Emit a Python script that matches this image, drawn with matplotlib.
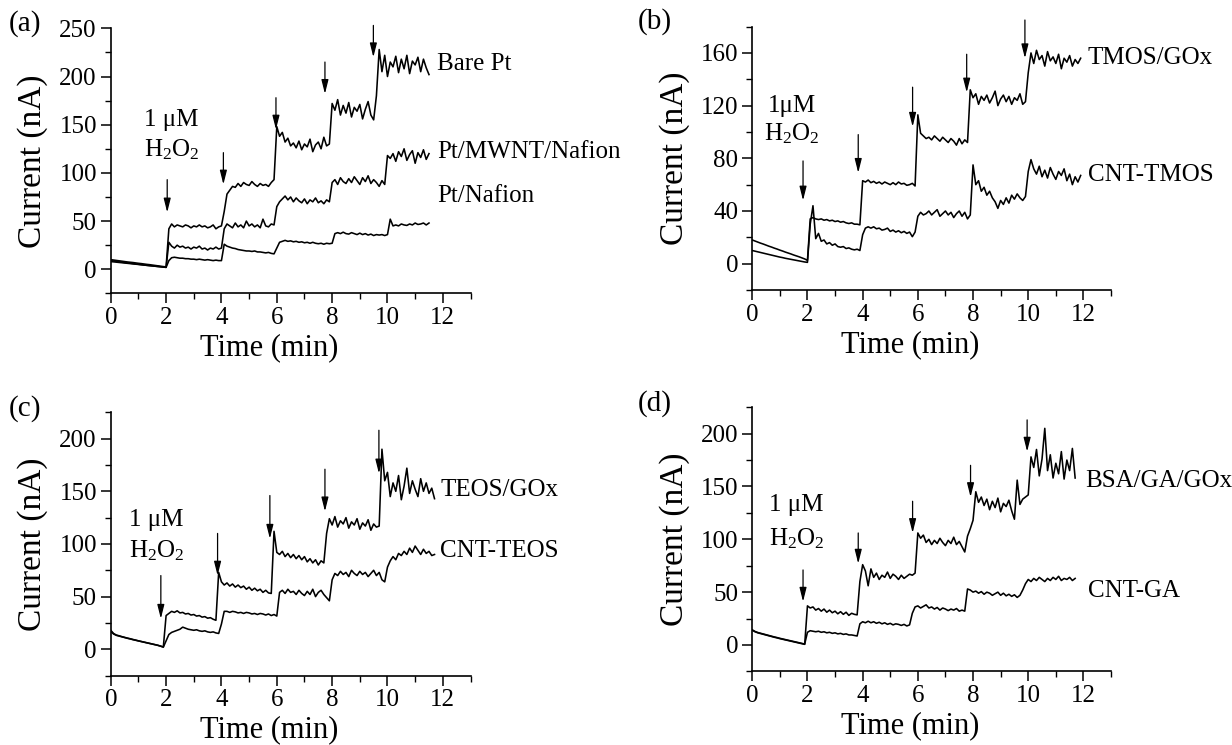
import numpy as np
import matplotlib.pyplot as plt
from matplotlib.ticker import MultipleLocator

plt.rcParams['font.family'] = ['Liberation Serif', 'DejaVu Serif']
plt.rcParams['mathtext.default'] = 'regular'

# sampling grids (min), one reading every 0.1 min
t_a = np.round(np.arange(0, 11.55, 0.1), 1)
t_b = np.round(np.arange(0, 11.95, 0.1), 1)
t_c = np.round(np.arange(0, 11.75, 0.1), 1)
t_d = np.round(np.arange(0, 11.75, 0.1), 1)

# (a) currents in nA
bare_pt = [10, 9.6, 9.2, 8.8, 8.4, 8.0, 7.6, 7.3, 7.0, 6.6, 6.2, 5.9, 5.5, 5.1, 4.8, 4.4, 4.0, 3.6, 3.2, 2.8, 2.5,
           42, 47, 44, 46, 45, 44, 46, 45, 43, 45, 44, 46, 44, 45, 43, 44, 46, 42, 44, 45,
           60, 78, 82, 86, 85, 89, 86, 90, 88, 87, 91, 88, 86, 89, 87, 88, 86, 90, 93,
           148, 138, 142, 132, 136, 128, 131, 126, 133, 124, 130, 127, 135, 122, 129, 132, 125, 137, 128, 130,
           172, 165, 176, 160, 170, 162, 173, 158, 168, 164, 171, 156, 166, 174, 160, 155, 180,
           228, 205, 222, 200, 215, 210, 221, 204, 218, 208, 222, 203, 216, 212, 220, 205, 218, 209, 202]
pt_mwnt_nafion = [8, 7.7, 7.4, 7.1, 6.8, 6.5, 6.2, 5.9, 5.6, 5.3, 5.0, 4.7, 4.4, 4.1, 3.8, 3.5, 3.2, 2.9, 2.6, 2.3, 2.0,
                  28, 24, 22, 25, 23, 24, 22, 23, 21, 23, 22, 24, 21, 22, 20, 22, 21, 23, 21, 22,
                  42, 47, 45, 43, 48, 44, 46, 43, 50, 45, 47, 44, 46, 43, 52, 45, 44, 47, 46,
                  65, 70, 73, 76, 72, 75, 70, 74, 71, 69, 73, 68, 72, 70, 74, 69, 71, 68, 72, 70,
                  90, 93, 88, 95, 91, 89, 94, 90, 96, 92, 88, 95, 91, 97, 89, 93, 90, 86, 92, 88,
                  118, 115, 120, 112, 122, 117, 125, 113, 119, 123, 110, 121, 116, 124, 114, 120]
pt_nafion = [9, 8.6, 8.2, 7.8, 7.4, 7.0, 6.7, 6.3, 5.9, 5.5, 5.2, 4.8, 4.4, 4.1, 3.8, 3.5, 3.2, 2.9, 2.6, 2.3, 2.0,
             9, 12, 12.5, 12, 11.5, 11.5, 11, 11, 10.5, 10.5, 10, 10.5, 10, 9.5, 10, 9.5, 9, 9.5, 9, 9,
             26, 24, 23, 22, 21.5, 20.5, 20, 19.5, 19, 19, 18.5, 19, 18, 18, 17.5, 17, 17.5, 16.5, 16,
             22, 28, 29, 30, 29, 29.5, 28.5, 29, 28, 28.5, 27.5, 28, 27, 28, 27, 26.5, 27, 26, 27, 26.5, 27,
             37, 38, 37, 38.5, 37, 36.5, 38, 37, 36, 37.5, 36, 37, 35.5, 36.5, 35, 36, 35.5, 36, 35, 36,
             52, 45, 46, 45, 47, 46, 45.5, 47, 46, 48, 46.5, 47, 48, 46, 48]

# (b)
tmos_gox = [18, 17.2, 16.4, 15.6, 14.9, 14.1, 13.3, 12.6, 11.8, 11.1, 10.3, 9.6, 8.8, 8.1, 7.4, 6.6, 5.9, 5.2, 4.4, 3.6, 2.5,
            34, 35, 34, 33.5, 34, 33, 33.5, 32.5, 33, 32, 32.5, 31.5, 32, 31, 30.5, 31, 30, 30, 29.5,
            63, 62, 63.5, 61.5, 62.5, 61, 62, 60.5, 62, 61, 60, 61.5, 60, 62, 60.5, 61, 59.5, 60, 61, 59,
            113, 99, 97, 95, 96, 94, 97, 95, 93, 96, 94, 92, 95, 93, 90, 95, 91, 94, 92,
            132, 126, 129, 121, 127, 124, 128, 122, 126, 131, 120, 125, 128, 123, 127, 121, 126, 124, 129, 121, 123,
            145, 160, 152, 162, 155, 158, 150, 161, 154, 157, 152, 159, 148, 156, 153, 158, 150, 155, 152, 156]
cnt_tmos = [10, 9.5, 9.0, 8.5, 8.0, 7.5, 7.0, 6.5, 6.0, 5.5, 5.0, 4.6, 4.1, 3.7, 3.3, 2.9, 2.5, 2.1, 1.7, 1.3, 1.0,
            30, 44, 19, 23, 17, 18, 15, 16, 14, 15, 13, 12.5, 13, 11.5, 12, 11, 10.5, 11, 10,
            22, 27, 28, 27, 28, 26.5, 27, 25.5, 26, 27, 24.5, 25.5, 24, 25, 23.5, 24.5, 23, 24, 20.5, 24,
            36, 39, 37, 38, 40, 37, 39, 41, 36, 38, 40, 37, 39, 35, 38, 40, 36, 39, 34, 37,
            75, 60, 63, 55, 58, 52, 55, 50, 47, 42, 48, 45, 50, 46, 52, 49, 53, 50, 48, 51,
            70, 79, 72, 68, 74, 66, 71, 65, 73, 68, 64, 70, 67, 72, 63, 68, 60, 66, 62, 67]

# (c)
teos_gox = [18, 15, 13.5, 12.8, 12, 11.3, 10.6, 10, 9.3, 8.7, 8.0, 7.4, 6.8, 6.2, 5.6, 5.0, 4.4, 3.8, 3.0, 2.2,
            32, 34, 36, 35, 36.5, 34.5, 35, 33.5, 34, 32.5, 33, 31.5, 32, 30.5, 31, 29.5, 30, 28.5, 27.5,
            73, 64, 61, 63, 60, 62, 59, 61, 58.5, 60, 57, 59, 56, 58, 55.5, 57, 54, 56, 53.5, 53,
            112, 92, 90, 93, 88, 91, 87, 90, 86, 89, 85, 88, 83, 86, 82, 85, 80, 84, 82,
            110, 124, 118, 126, 116, 122, 119, 125, 115, 121, 118, 124, 114, 120, 117, 123, 113, 119, 116, 117,
            190, 160, 168, 145, 158, 150, 165, 142, 155, 172, 148, 160, 152, 145, 162, 150, 158, 148, 153, 143]
cnt_teos = [17, 14.5, 13.2, 12.5, 11.8, 11.1, 10.4, 9.8, 9.1, 8.5, 7.9, 7.3, 6.7, 6.1, 5.5, 4.9, 4.3, 3.7, 2.9, 2.0,
            8, 14, 16, 17, 18, 19, 21, 20, 19, 18.5, 18, 18.5, 17.5, 17, 17.5, 16.5, 16, 16.5, 15.5, 15,
            24, 36, 36, 35, 36, 35.5, 34.5, 35, 34, 35, 34.5, 33.5, 34, 33, 34, 33.5, 32.5, 33.5, 32, 33, 31.5,
            54, 56, 53, 57, 54, 55, 52, 56, 53, 51, 55, 52, 57, 50, 54, 56, 52, 49, 46,
            66, 72, 70, 74, 71, 73, 69, 75, 72, 70, 74, 71, 73, 69, 72, 75, 70, 73, 66, 64,
            78, 84, 88, 85, 91, 89, 93, 90, 96, 92, 98, 94, 90, 95, 91, 93, 89, 90]

# (d)
bsa_ga_gox = [14, 12.5, 11.5, 10.8, 10.1, 9.4, 8.7, 8.0, 7.3, 6.7, 6.0, 5.4, 4.8, 4.2, 3.6, 3.0, 2.4, 1.8, 1.2, 0.6,
              37, 35, 36, 33, 34.5, 32, 34, 31, 33, 30.5, 32, 29.5, 31.5, 29, 31, 28, 30, 29, 28.5,
              60, 76, 70, 56, 72, 64, 68, 62, 66, 64, 69, 63, 67, 65, 62, 66, 63, 65, 67, 66,
              68, 106, 101, 104, 97, 100, 95, 99, 96, 101, 97, 94, 99, 96, 102, 95, 98, 93,
              88, 103, 110, 118, 145, 135, 140, 132, 138, 128, 136, 130, 139, 126, 134, 131, 137, 127, 119, 156, 133, 138, 140, 142,
              178, 168, 185, 160, 176, 205, 165, 180, 158, 172, 162, 183, 157, 175, 165, 186, 158]
cnt_ga = [14.3, 12.8, 11.8, 11.1, 10.4, 9.7, 9.0, 8.3, 7.6, 7.0, 6.3, 5.7, 5.1, 4.5, 3.9, 3.3, 2.7, 2.1, 1.5, 0.9,
          12, 13.5, 13, 12.5, 13, 12, 12.5, 11.5, 12, 11, 11.5, 10.5, 11, 10, 10.5, 9.5, 9.5, 9, 8.5,
          20, 22, 21, 22.5, 21, 22, 20.5, 21.5, 20, 21, 19.5, 20.5, 19, 20, 19.5, 18.5, 19.5, 18, 19,
          30, 36, 37, 35, 36.5, 38, 35, 36, 34, 35.5, 33, 35, 34, 32.5, 34, 33, 34.5, 32, 33, 32,
          53, 52, 50, 51, 49, 50.5, 48, 50, 49, 47, 48.5, 50, 47, 49, 46.5, 48, 46, 47.5, 45, 47,
          52, 58, 62, 60, 63, 61, 64, 62, 60, 63, 61, 64, 62, 65, 61, 63, 62, 64, 61, 63]

# injection arrows: time, tail current, tip current
arrows_a = [(2.04, 93, 59), (4.07, 121, 88), (5.97, 178, 145), (7.74, 215, 182), (9.49, 253, 220)]
arrows_b = [(1.84, 78, 48), (3.84, 98, 69), (5.81, 134, 104), (7.77, 159, 130), (9.88, 185, 156)]
arrows_c = [(1.81, 70, 29), (3.86, 110, 70), (5.75, 146, 105), (7.74, 171, 131), (9.69, 208, 167)]
arrows_d = [(1.84, 71, 41), (3.84, 106, 77), (5.81, 136, 106), (7.91, 170, 140), (9.96, 213, 183)]

panels = [
    dict(pos=[0.0899, 0.6062, 0.2920, 0.3558], t=t_a, ys=[bare_pt, pt_mwnt_nafion, pt_nafion],
         names=['Bare Pt', 'Pt/MWNT/Nafion', 'Pt/Nafion'], name_xy=[(11.8, 213), (11.8, 122), (11.8, 76)],
         ylim=(-25, 250), major=50, minor=25, arrows=arrows_a,
         conc='1 \u03bcM', conc_xy=(2.19, 155), h2o2_xy=(2.19, 124), letter='(a)', letter_px=(25, 24)),
    dict(pos=[0.6106, 0.6107, 0.2912, 0.3536], t=t_b, ys=[tmos_gox, cnt_tmos],
         names=['TMOS/GOx', 'CNT-TMOS'], name_xy=[(12.16, 156), (12.16, 67)],
         ylim=(-20, 180), major=40, minor=20, arrows=arrows_b,
         conc='1\u03bcM', conc_xy=(1.43, 120), h2o2_xy=(1.43, 99), letter='(b)', letter_px=(655, 22)),
    dict(pos=[0.0899, 0.0932, 0.2920, 0.3533], t=t_c, ys=[teos_gox, cnt_teos],
         names=['TEOS/GOx', 'CNT-TEOS'], name_xy=[(11.9, 151), (11.9, 93)],
         ylim=(-25, 225), major=50, minor=25, arrows=arrows_c,
         conc='1 \u03bcM', conc_xy=(1.65, 123), h2o2_xy=(1.65, 94), letter='(c)', letter_px=(25, 409)),
    dict(pos=[0.6106, 0.0988, 0.2912, 0.3546], t=t_d, ys=[bsa_ga_gox, cnt_ga],
         names=['BSA/GA/GOx', 'CNT-GA'], name_xy=[(12.05, 155), (12.16, 51)],
         ylim=(-25, 225), major=50, minor=25, arrows=arrows_d,
         conc='1 \u03bcM', conc_xy=(1.6, 132), h2o2_xy=(1.6, 101), letter='(d)', letter_px=(655, 404)),
]

fig = plt.figure(figsize=(12.32, 7.45), dpi=100)

for p in panels:
    ax = fig.add_axes(p['pos'])
    for y in p['ys']:
        assert len(y) == len(p['t'])
        ax.plot(p['t'], y, color='black', lw=1.15)

    for x, top, tip in p['arrows']:
        ax.annotate('', xy=(x, tip), xytext=(x, top), annotation_clip=False,
                    arrowprops=dict(arrowstyle='-|>,head_length=0.6,head_width=0.15',
                                    color='black', lw=0.9, mutation_scale=14,
                                    shrinkA=0, shrinkB=0))

    for name, (x, y) in zip(p['names'], p['name_xy']):
        ax.text(x, y, name, fontsize=18, ha='left', va='center', clip_on=False)

    ax.text(*p['conc_xy'], p['conc'], fontsize=18, ha='center', va='center')
    ax.text(*p['h2o2_xy'], 'H$_2$O$_2$', fontsize=18, ha='center', va='center')

    ax.set_xlim(0, 13)
    ax.set_ylim(*p['ylim'])
    ax.xaxis.set_major_locator(MultipleLocator(2))
    ax.xaxis.set_minor_locator(MultipleLocator(1))
    ax.yaxis.set_major_locator(MultipleLocator(p['major']))
    ax.yaxis.set_minor_locator(MultipleLocator(p['minor']))
    ax.set_yticks([v for v in ax.get_yticks() if 0 <= v <= p['ylim'][1]])
    ax.set_ylim(*p['ylim'])

    for s in ['top', 'right']:
        ax.spines[s].set_visible(False)
    for s in ['left', 'bottom']:
        ax.spines[s].set_linewidth(1.2)
    ax.tick_params(which='major', direction='out', length=7, width=1.1, labelsize=18, pad=3)
    ax.tick_params(which='minor', direction='out', length=4, width=1.0)

    ax.set_xlabel('Time (min)', fontsize=22, x=0.44, labelpad=3)
    ax.set_ylabel('Current (nA)', fontsize=24, labelpad=8)

    fig.text(p['letter_px'][0] / 1232, 1 - p['letter_px'][1] / 745, p['letter'],
             fontsize=21, ha='center', va='center')

fig.savefig('out.png', dpi=100)
